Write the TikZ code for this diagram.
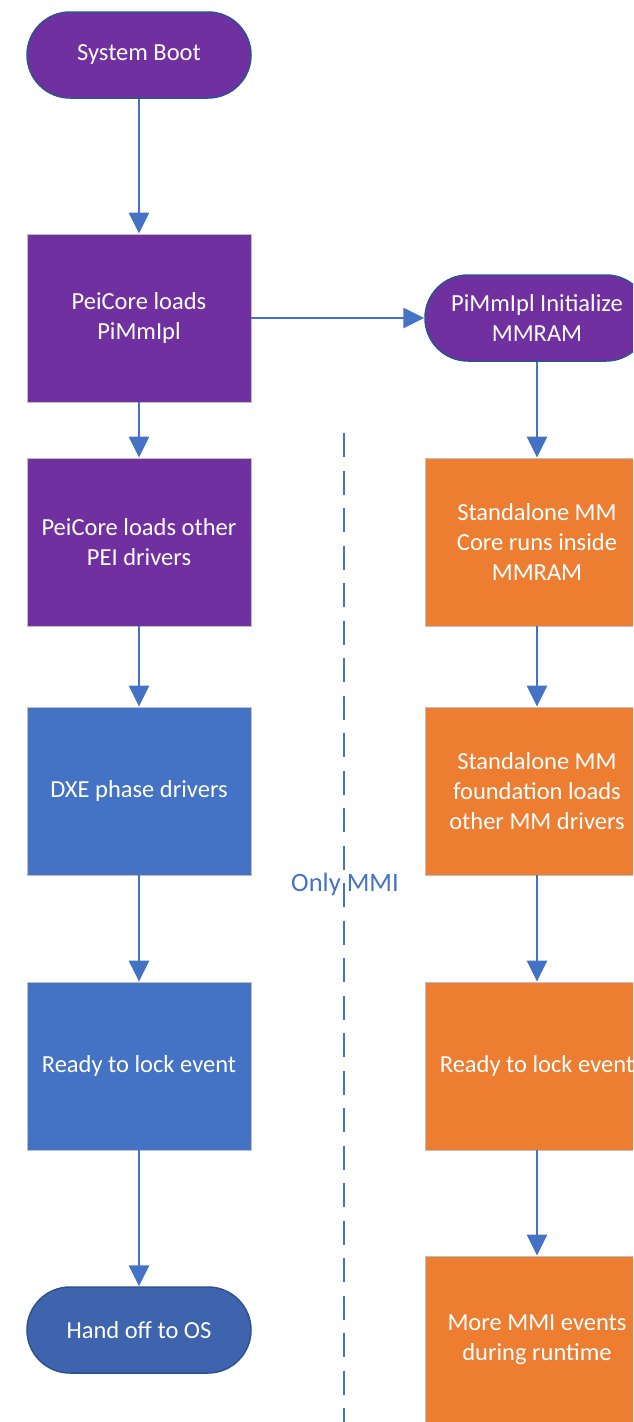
\documentclass[tikz,border=0pt]{standalone}
\usepackage{fontspec}
\setmainfont{Carlito}
\usetikzlibrary{arrows.meta}
\definecolor{cpurple}{HTML}{7030A0}
\definecolor{corange}{HTML}{ED7D31}
\definecolor{cblue}{HTML}{4472C4}
\definecolor{cdblue}{HTML}{3D64AD}
\definecolor{cborder}{HTML}{2F528F}
\definecolor{cgray}{HTML}{BFBFBF}
\tikzset{
  box/.style={draw=cgray, line width=0.8pt, minimum width=224pt, minimum height=168pt,
    text=white, align=center, font=\fontsize{24.5}{30}\selectfont, inner sep=0pt},
  term/.style={draw=cborder, line width=1.5pt, minimum width=224pt, minimum height=86pt,
    rounded corners=43pt, text=white, align=center, font=\fontsize{24.5}{30}\selectfont, inner sep=0pt},
  flow/.style={draw=cblue, line width=2.7pt, -{Triangle[length=21pt,width=20pt]}},
  sep/.style={draw=cblue, line width=2.6pt, dash pattern=on 24pt off 13.5pt}
}
\begin{document}
\begin{tikzpicture}[x=1pt,y=-1pt]
\useasboundingbox (0,0) rectangle (633,1422);
\clip (0,0) rectangle (633,1422);
% left column
\node[term, fill=cpurple] (boot) at (139,55) {System Boot};
\node[box, fill=cpurple] (pei) at (139,318) {PeiCore loads\\PiMmIpl};
\node[box, fill=cpurple] (peio) at (139,542) {PeiCore loads other\\PEI drivers};
\node[box, fill=cblue] (dxe) at (139,791) {DXE phase drivers};
\node[box, fill=cblue] (rdyl) at (139,1066) {Ready to lock event};
\node[term, fill=cdblue] (os) at (139,1330) {Hand off to OS};
% right column
\node[term, fill=cpurple] (init) at (537,318) {PiMmIpl Initialize\\MMRAM};
\node[box, fill=corange] (core) at (537,542) {Standalone MM\\Core runs inside\\MMRAM};
\node[box, fill=corange] (found) at (537,791) {Standalone MM\\foundation loads\\other MM drivers};
\node[box, fill=corange] (rdyr) at (537,1066) {Ready to lock event};
\node[box, fill=corange] (more) at (537,1340) {More MMI events\\during runtime};
% separator
\node[text=cblue, font=\fontsize{26.5}{30}\selectfont, inner sep=0pt] (lbl) at (345,884) {Only MMI};
\coordinate (st) at (344,433);
\coordinate (en) at (344,1430);
\draw[sep] (st) -- (en);
% connectors
\draw[flow] (boot) -- (pei);
\draw[flow] (pei) -- (init);
\draw[flow] (pei) -- (peio);
\draw[flow] (peio) -- (dxe);
\draw[flow] (dxe) -- (rdyl);
\draw[flow] (rdyl) -- (os);
\draw[flow] (init) -- (core);
\draw[flow] (core) -- (found);
\draw[flow] (found) -- (rdyr);
\draw[flow] (rdyr) -- (more);
\end{tikzpicture}
\end{document}
